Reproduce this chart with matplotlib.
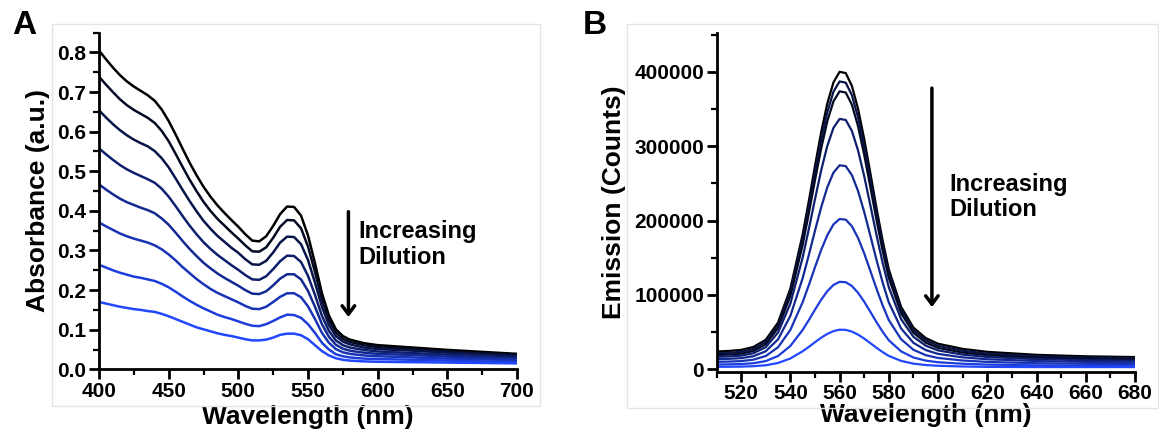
import matplotlib
matplotlib.use("Agg")
import matplotlib.pyplot as plt
import numpy as np
from matplotlib.patches import Rectangle
from matplotlib.ticker import MultipleLocator, FormatStrFormatter

plt.rcParams["font.family"] = ["Liberation Sans", "DejaVu Sans"]
plt.rcParams["font.weight"] = "bold"

# --- A: absorbance spectra (most concentrated first) ---
abs_wl = [400, 405, 410, 415, 420, 425, 430, 435, 440, 445, 450, 455, 460, 465, 470,
          475, 480, 485, 490, 495, 500, 505, 510, 515, 520, 525, 530, 535, 540, 545,
          550, 555, 560, 565, 570, 575, 580, 590, 600, 625, 650, 675, 700]
abs_curves = [
    [.805, .783, .762, .743, .727, .714, .703, .692, .678, .656, .627, .593, .557, .522, .490,
     .461, .436, .414, .395, .377, .360, .341, .325, .323, .336, .362, .392, .411, .410, .388,
     .338, .268, .192, .136, .101, .084, .075, .066, .061, .055, .049, .044, .039],
    [.739, .719, .700, .682, .667, .655, .645, .635, .622, .602, .576, .544, .511, .479, .450,
     .423, .400, .380, .363, .346, .330, .313, .298, .297, .308, .332, .360, .377, .376, .356,
     .310, .246, .176, .125, .093, .077, .069, .061, .056, .050, .045, .040, .036],
    [.654, .636, .619, .604, .591, .580, .571, .563, .551, .533, .510, .482, .453, .425, .399,
     .375, .355, .337, .322, .307, .294, .278, .265, .264, .274, .295, .320, .335, .334, .316,
     .276, .219, .158, .112, .084, .070, .063, .055, .051, .047, .042, .038, .034],
    [.558, .543, .529, .516, .505, .496, .488, .480, .471, .456, .436, .412, .387, .363, .341,
     .321, .304, .289, .276, .263, .251, .238, .227, .226, .235, .253, .273, .287, .286, .271,
     .236, .188, .135, .097, .073, .061, .055, .049, .045, .041, .037, .033, .030],
    [.467, .454, .442, .431, .422, .415, .408, .402, .394, .381, .365, .345, .324, .304, .286,
     .269, .255, .242, .231, .221, .211, .200, .191, .190, .197, .212, .229, .240, .240, .227,
     .198, .158, .114, .082, .062, .052, .047, .042, .039, .036, .032, .029, .026],
    [.371, .361, .352, .343, .336, .330, .325, .320, .313, .303, .290, .275, .258, .243, .228,
     .215, .203, .193, .185, .177, .169, .160, .153, .152, .158, .170, .183, .192, .192, .182,
     .159, .127, .092, .067, .051, .043, .039, .035, .033, .030, .027, .025, .023],
    [.264, .257, .250, .244, .239, .234, .231, .227, .223, .216, .207, .196, .184, .173, .163,
     .154, .146, .138, .132, .127, .121, .115, .110, .109, .114, .122, .131, .138, .137, .130,
     .114, .092, .067, .050, .038, .033, .030, .027, .026, .024, .022, .020, .018],
    [.170, .166, .162, .158, .155, .152, .150, .147, .145, .140, .134, .127, .120, .113, .106,
     .101, .096, .091, .087, .084, .080, .076, .073, .073, .075, .080, .087, .090, .090, .086,
     .076, .061, .046, .035, .028, .024, .022, .020, .019, .018, .017, .016, .015],
]

# --- B: emission spectra ---
em_wl = [510, 515, 520, 525, 530, 535, 540, 545, 547.5, 550, 552.5, 555, 557.5, 560, 562.5,
         565, 567.5, 570, 572.5, 575, 577.5, 580, 585, 590, 595, 600, 610, 620, 640, 660, 680]
em_curves = [
    [24000, 24700, 26100, 30100, 39700, 62900, 108500, 181500, 226300, 273400, 318600, 357500,
     385900, 400200, 398500, 381200, 350400, 309800, 263800, 216800, 172900, 134300, 83900,
     56100, 42000, 34400, 27500, 23500, 19500, 17500, 16500],
    [21600, 22250, 23570, 27390, 36690, 59160, 103530, 174520, 218040, 263900, 307870, 345660,
     373340, 387240, 385590, 368720, 338820, 299320, 254530, 208870, 166120, 128630, 79630,
     52610, 38900, 31610, 25010, 21220, 17550, 15750, 14850],
    [19200, 19790, 21040, 24680, 33670, 55440, 98470, 167390, 209640, 254160, 296860, 333550,
     360410, 373910, 372320, 355950, 326910, 288560, 245080, 200740, 159250, 122850, 75300,
     49100, 35840, 28810, 22510, 18950, 15600, 14000, 13200],
    [16800, 17320, 18440, 21700, 29810, 49440, 88270, 150460, 188590, 228770, 267310, 300430,
     324680, 336860, 335420, 320650, 294440, 259820, 220580, 180570, 143120, 110270, 67360,
     43720, 31770, 25440, 19790, 16600, 13650, 12250, 11550],
    [13680, 14100, 15020, 17670, 24280, 40280, 71910, 122580, 153650, 186390, 217790, 244770,
     264530, 274450, 273280, 261240, 239890, 211690, 179710, 147110, 116600, 89840, 54870,
     35620, 25880, 20720, 16110, 13520, 11115, 9975, 9405],
    [10080, 10390, 11060, 13020, 17890, 29670, 52980, 90310, 113200, 137310, 160450, 180320,
     194880, 202190, 201330, 192460, 176730, 155950, 132400, 108380, 85900, 66190, 40430,
     26240, 19060, 15270, 11870, 9960, 8190, 7350, 6930],
    [6480, 6670, 7080, 8230, 11060, 17900, 31390, 52980, 66220, 80170, 93550, 105050,
     113460, 117690, 117190, 112060, 102960, 90950, 77320, 63430, 50430, 39030, 24120,
     15900, 11740, 9520, 7520, 6370, 5265, 4725, 4455],
    [3360, 3460, 3650, 4180, 5460, 8540, 14590, 24280, 30210, 36470, 42460, 47610,
     51390, 53290, 53060, 50760, 46680, 41290, 35190, 28960, 23130, 18020, 11330,
     7640, 5760, 4750, 3820, 3280, 3000, 3000, 3000],
]

W, H = 1159, 434
dark = np.array([0.0, 0.0, 0.0])
blue = np.array([0.13, 0.28, 1.0])
shades = [tuple(dark + (blue - dark) * t) for t in np.linspace(0, 1, 8)]
em_colors = [shades[0], shades[2], shades[1]] + shades[3:]

fig = plt.figure(figsize=(W / 100, H / 100), dpi=100)

# faint panel frames
for x0, y0, x1, y1 in [(52, 24, 540, 406), (627, 24, 1158, 408)]:
    fig.add_artist(Rectangle((x0 / W, 1 - y1 / H), (x1 - x0) / W, (y1 - y0) / H,
                             transform=fig.transFigure, fill=False, ec="#e4e4e4", lw=1))

axA = fig.add_axes([99 / W, 1 - 369.3 / H, 418 / W, 336.6 / H])
axB = fig.add_axes([716.5 / W, 1 - 371.7 / H, 418.5 / W, 338.4 / H])

for curve, c in zip(abs_curves, shades):
    axA.plot(abs_wl, curve, color=c, lw=1.8)
for curve, c in zip(em_curves, em_colors):
    axB.plot(em_wl, curve, color=c, lw=1.6)

axA.set_xlim(400, 700)
axA.set_ylim(0, 0.85)
axA.xaxis.set_major_locator(MultipleLocator(50))
axA.xaxis.set_minor_locator(MultipleLocator(25))
axA.yaxis.set_major_locator(MultipleLocator(0.1))
axA.yaxis.set_minor_locator(MultipleLocator(0.05))
axA.yaxis.set_major_formatter(FormatStrFormatter("%.1f"))

axB.set_xlim(510, 680)
axB.set_ylim(-3200, 452000)
axB.xaxis.set_major_locator(MultipleLocator(20))
axB.xaxis.set_minor_locator(MultipleLocator(10))
axB.yaxis.set_major_locator(MultipleLocator(100000))
axB.yaxis.set_minor_locator(MultipleLocator(50000))
axB.ticklabel_format(axis="y", style="plain")

for ax in (axA, axB):
    for s in ("top", "right"):
        ax.spines[s].set_visible(False)
    for s in ("left", "bottom"):
        ax.spines[s].set_linewidth(2)
    ax.tick_params(which="major", direction="out", length=7, width=2, labelsize=15, pad=2)
    ax.tick_params(which="minor", direction="out", length=4, width=1.6)
    for lab in ax.get_xticklabels() + ax.get_yticklabels():
        lab.set_fontweight("bold")

axA.set_xlabel("Wavelength (nm)", fontsize=19, fontweight="bold", labelpad=3)
axA.set_ylabel("Absorbance (a.u.)", fontsize=19, fontweight="bold", labelpad=5)
axB.set_xlabel("Wavelength (nm)", fontsize=19, fontweight="bold", labelpad=0)
axB.set_ylabel("Emission (Counts)", fontsize=19, fontweight="bold", labelpad=6)

arrow = dict(arrowstyle="->,head_length=0.6,head_width=0.45", lw=2.5, color="black")
axA.annotate("", xy=(579, 0.125), xytext=(579, 0.405), arrowprops=arrow)
axA.text(586, 0.315, "Increasing\nDilution", fontsize=17, fontweight="bold",
         va="center", ha="left", linespacing=1.15)
axB.annotate("", xy=(597.5, 80000), xytext=(597.5, 382000), arrowprops=arrow)
axB.text(604.5, 232000, "Increasing\nDilution", fontsize=17, fontweight="bold",
         va="center", ha="left", linespacing=1.15)

fig.text(12 / W, 1 - 26 / H, "A", fontsize=24, fontweight="bold", va="center", ha="left")
fig.text(583 / W, 1 - 26 / H, "B", fontsize=24, fontweight="bold", va="center", ha="left")

fig.savefig("out.png", dpi=100)
